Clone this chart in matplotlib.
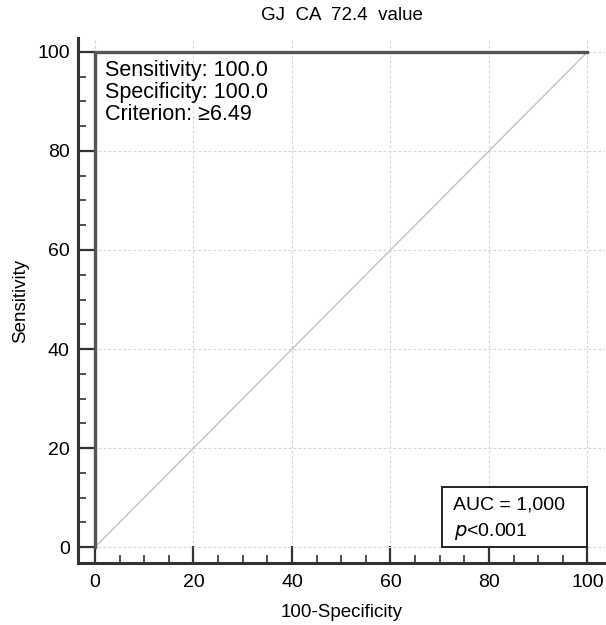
import numpy as np
import matplotlib.pyplot as plt
from matplotlib.patches import Rectangle

plt.rcParams['font.family'] = ['Liberation Sans', 'DejaVu Sans']

# ROC curve points (100-Specificity, Sensitivity)
fpr = [0, 0, 100]
tpr = [0, 100, 100]
ref_x = [0, 100]
ref_y = [0, 100]

title = 'GJ  CA  72.4  value'
sens = 100.0
spec = 100.0
criterion = '≥6.49'
auc_txt = '1,000'
p_txt = '<0.001'

fig = plt.figure(figsize=(6.06, 6.25), dpi=100)
ax = fig.add_axes([0.1287, 0.0992, 0.870, 0.84])

ax.plot(ref_x, ref_y, color='#c2c2c2', lw=1.0, zorder=2)
ax.plot(fpr, tpr, color='#555555', lw=2.4, zorder=3, solid_joinstyle='miter')

ax.set_xlim(-3.45, 103.6)
ax.set_ylim(-3.2, 102.8)

ax.set_xticks(np.arange(0, 101, 20))
ax.set_yticks(np.arange(0, 101, 20))
ax.set_xticks(np.arange(0, 101, 5), minor=True)
ax.set_yticks(np.arange(0, 101, 5), minor=True)

for s in ['top', 'right']:
    ax.spines[s].set_visible(False)
for s in ['left', 'bottom']:
    ax.spines[s].set_linewidth(2.2)
    ax.spines[s].set_color('#333333')

ax.tick_params(which='major', direction='in', length=12, width=1.6, color='#333333',
               labelsize=14, pad=8)
ax.tick_params(which='minor', direction='in', length=5.5, width=1.2, color='#333333')
ax.tick_params(axis='y', pad=6)

ax.grid(True, which='major', color='#d6d6d6', ls=(0, (2.5, 2)), lw=0.8)
ax.set_axisbelow(True)

ax.set_title(title, fontsize=13.5, pad=13)
ax.set_xlabel('100-Specificity', fontsize=13.5, labelpad=9)
ax.set_ylabel('Sensitivity', fontsize=13.5, labelpad=6)

ax.text(2.0, 98.3, f'Sensitivity: {sens:.1f}\nSpecificity: {spec:.1f}\nCriterion: {criterion}',
        fontsize=15.5, va='top', ha='left', linespacing=1.05)

ax.add_patch(Rectangle((70.4, 0), 29.6, 12.1, fc='white', ec='#222222', lw=1.4, zorder=4))
ax.text(72.6, 8.5, f'AUC = {auc_txt}', fontsize=14, va='center', ha='left', zorder=5)
ax.text(72.8, 3.1, f'$p${p_txt}', fontsize=14, va='center', ha='left', zorder=5)

fig.savefig('out.png', dpi=100)
